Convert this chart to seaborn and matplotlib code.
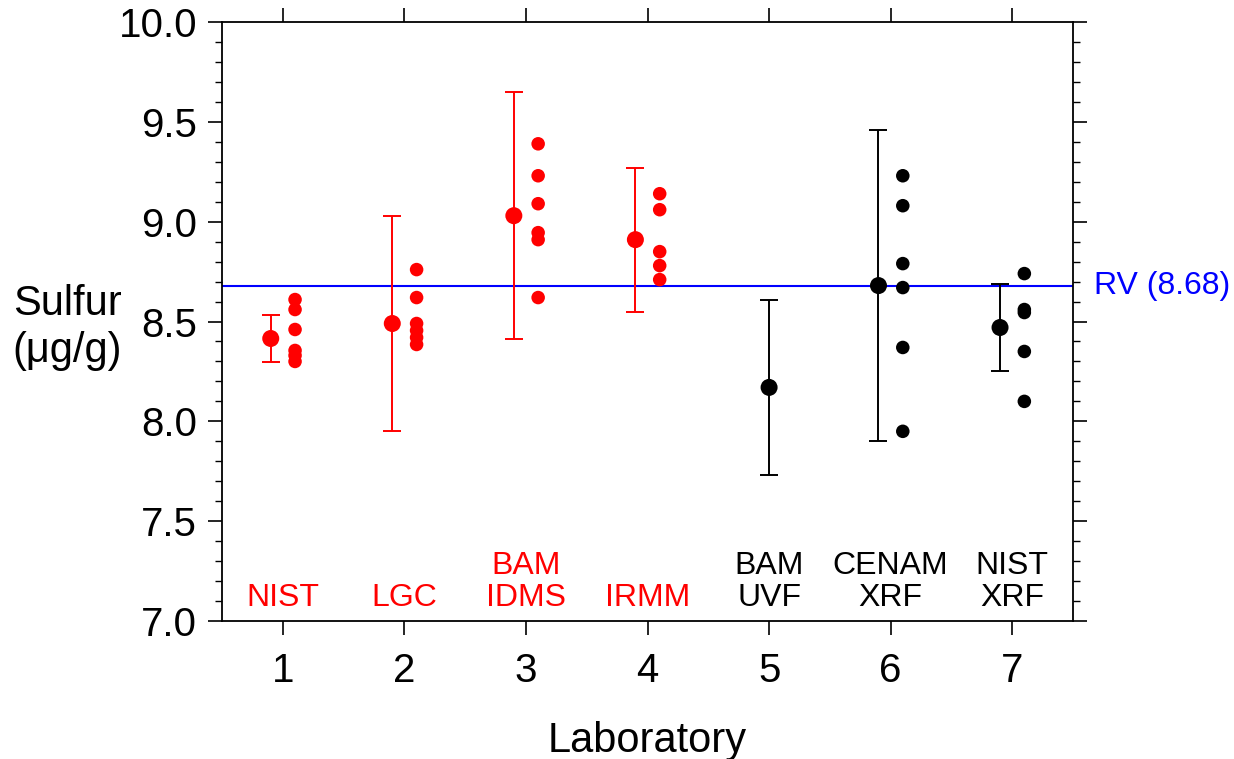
import numpy as np
import pandas as pd
import seaborn as sns
import matplotlib.pyplot as plt
from matplotlib.ticker import MultipleLocator

labs = [1, 2, 3, 4, 5, 6, 7]
lab_names = ["NIST", "LGC", "BAM\nIDMS", "IRMM", "BAM\nUVF", "CENAM\nXRF", "NIST\nXRF"]
lab_colors = ["red", "red", "red", "red", "black", "black", "black"]
means = [8.415, 8.49, 9.03, 8.91, 8.17, 8.68, 8.47]
uncert = [0.12, 0.54, 0.62, 0.36, 0.44, 0.78, 0.22]
replicates = {
    1: [8.61, 8.56, 8.46, 8.355, 8.33, 8.30],
    2: [8.76, 8.62, 8.49, 8.455, 8.42, 8.385],
    3: [9.39, 9.23, 9.09, 8.945, 8.91, 8.62],
    4: [9.14, 9.06, 8.85, 8.78, 8.71],
    6: [9.23, 9.08, 8.79, 8.67, 8.37, 7.95],
    7: [8.74, 8.56, 8.545, 8.35, 8.10],
}
ref_value = 8.68


def create_graphic():
    sns.set_style("ticks")
    plt.rcParams['font.family'] = ['Liberation Sans', 'DejaVu Sans']
    for key in ['text.color', 'axes.labelcolor', 'xtick.color', 'ytick.color', 'axes.edgecolor']:
        plt.rcParams[key] = 'black'

    rows = [(lab, v, lab_colors[lab - 1]) for lab, vals in replicates.items() for v in vals]
    rep = pd.DataFrame(rows, columns=["lab", "value", "color"])
    rep["xpos"] = rep["lab"] + 0.1
    mdf = pd.DataFrame({"lab": labs, "mean": means, "U": uncert, "color": lab_colors})
    mdf["xpos"] = mdf["lab"] - 0.1
    mdf.loc[mdf["lab"] == 5, "xpos"] = 5

    fig = plt.figure(figsize=(12.34, 7.59), dpi=100)
    ax = fig.add_axes([0.18, 0.1818, 0.6895, 0.7892])

    ax.axhline(ref_value, color="#0000ff", lw=1.5, zorder=1)

    for _, r in mdf.iterrows():
        ax.errorbar(r["xpos"], r["mean"], yerr=r["U"], fmt="none",
                    ecolor=r["color"], elinewidth=1.4, capsize=6.5, capthick=1.4, zorder=2)

    palette = {"red": "red", "black": "black"}
    sns.scatterplot(data=mdf, x="xpos", y="mean", hue="color", palette=palette,
                    s=150, edgecolor="none", legend=False, ax=ax, zorder=3)
    sns.scatterplot(data=rep, x="xpos", y="value", hue="color", palette=palette,
                    s=95, edgecolor="none", legend=False, ax=ax, zorder=3)

    for lab, name, c in zip(labs, lab_names, lab_colors):
        ax.text(lab, 7.04, name, color=c, ha="center", va="bottom",
                fontsize=23, linespacing=1.1)

    ax.text(1.025, ref_value, "RV (8.68)", color="#0000ff", fontsize=23,
            ha="left", va="center", transform=ax.get_yaxis_transform())

    ax.set_xlim(0.5, 7.5)
    ax.set_ylim(7.0, 10.0)
    ax.set_xticks(labs)
    ax.yaxis.set_major_locator(MultipleLocator(0.5))
    ax.yaxis.set_minor_locator(MultipleLocator(0.1))
    ax.yaxis.set_major_formatter(plt.FormatStrFormatter('%.1f'))

    ax.tick_params(axis="both", which="major", direction="out", length=10, width=1.2,
                   labelsize=29, color="black", labelcolor="black", top=True, right=True)
    ax.tick_params(axis="y", which="minor", direction="out", length=5, width=1.0,
                   color="black", left=True, right=True)
    ax.tick_params(axis="x", which="major", pad=12)
    ax.tick_params(axis="y", which="major", pad=8)
    for s in ax.spines.values():
        s.set_visible(True)
        s.set_linewidth(1.3)
        s.set_color("black")

    ax.set_xlabel("Laboratory", fontsize=30, va="center")
    ax.xaxis.set_label_coords(0.5, -0.2)
    ax.set_ylabel("Sulfur\n(\u03bcg/g)", fontsize=30, rotation=0, ha="center",
                  va="center", linespacing=1.25)
    ax.yaxis.set_label_coords(-0.182, 0.49)

    fig.savefig("out.png", dpi=100)


if __name__ == '__main__':
    create_graphic()
